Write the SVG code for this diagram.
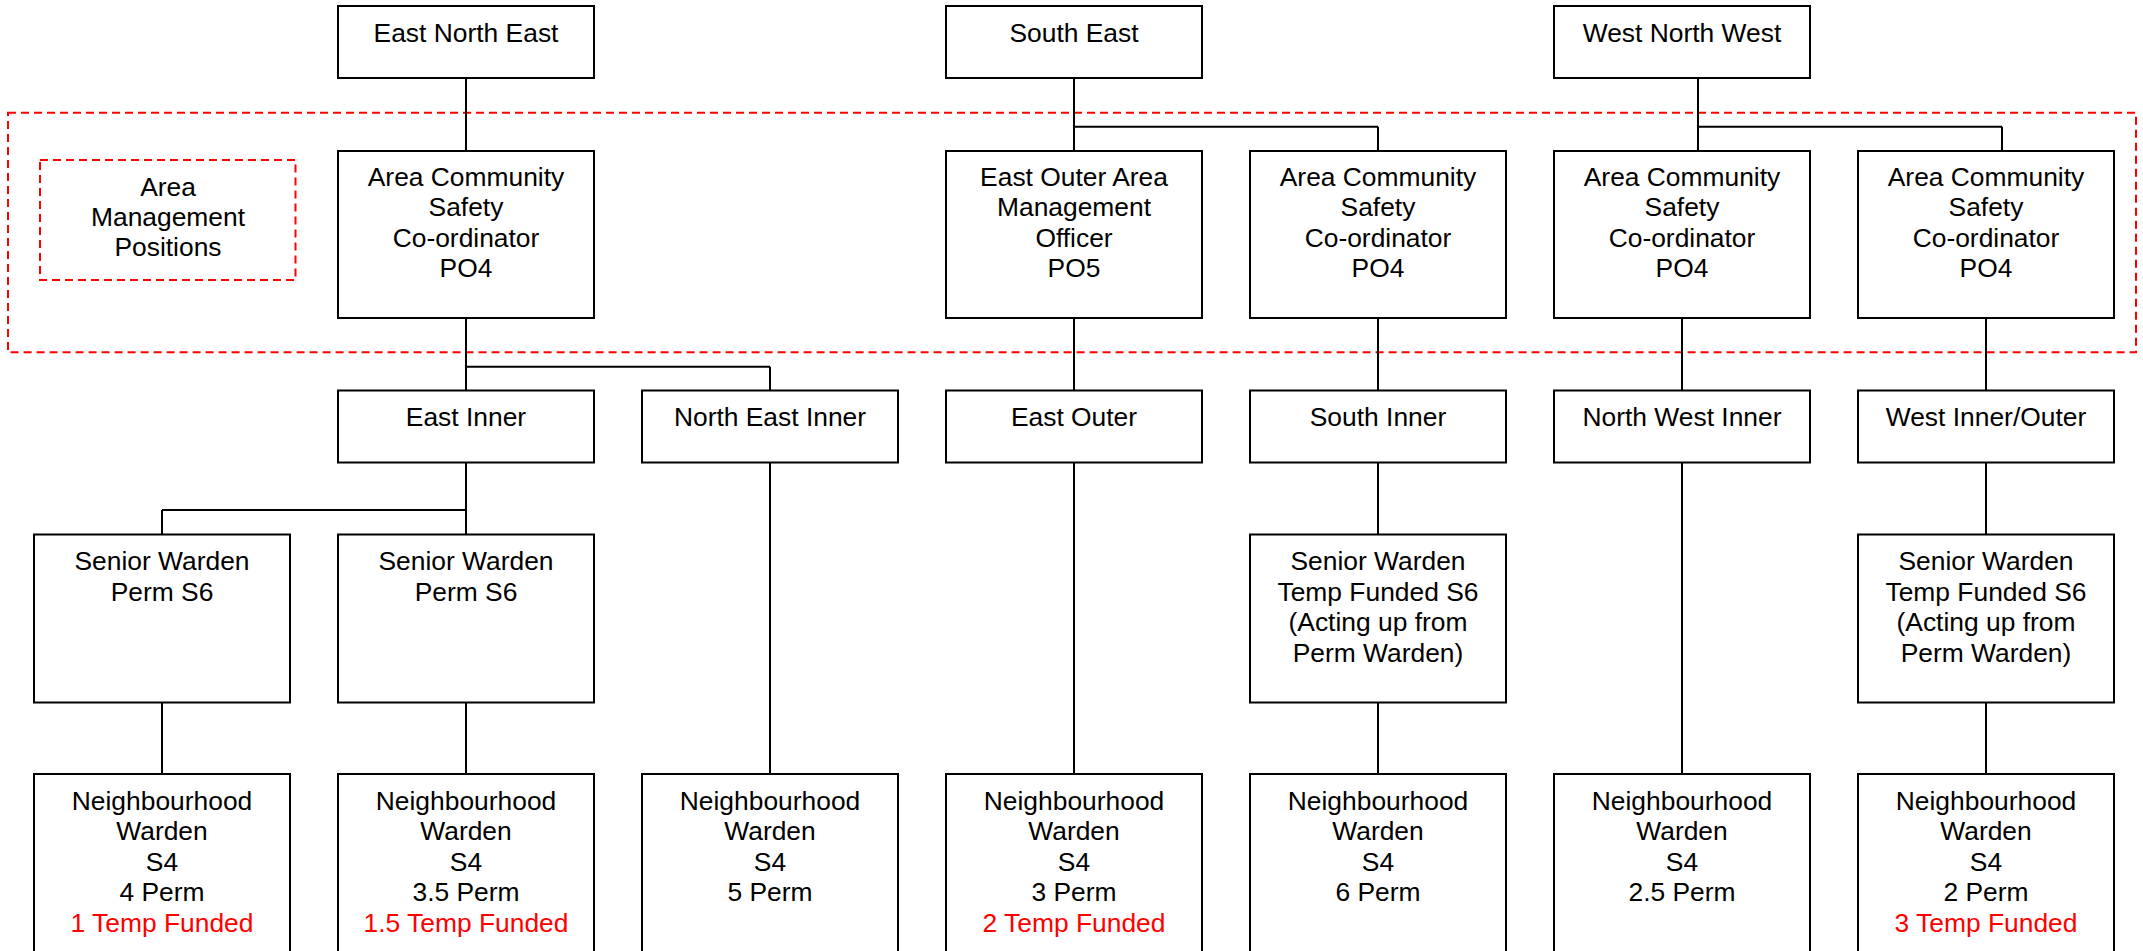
<svg xmlns="http://www.w3.org/2000/svg" width="2143" height="951" viewBox="0 0 2143 951">
<style>
.box{fill:#fff;stroke:#000;stroke-width:2}
.dash{fill:none;stroke:#ff0000;stroke-width:2;stroke-dasharray:8 5}
.t{font-family:"Liberation Sans",Arial,sans-serif;font-size:26.4px;fill:#000;text-anchor:middle}
.r{fill:#ff0000}
#connectors line{stroke:#000;stroke-width:2}
</style>
<rect width="2143" height="951" fill="#fff"/>
<g id="area-management-zone">
<rect class="dash" x="8" y="112.7" width="2128" height="239.6"/>
</g>
<g id="legend-area-management">
<rect class="dash" x="40" y="160" width="255.5" height="120"/>
<text class="t" x="168" y="196">Area</text>
<text class="t" x="168" y="226">Management</text>
<text class="t" x="168" y="256">Positions</text>
</g>
<g id="connectors">
<line x1="466" y1="78" x2="466" y2="151"/>
<line x1="466" y1="318" x2="466" y2="390.5"/>
<line x1="466" y1="366.7" x2="770" y2="366.7"/>
<line x1="770" y1="366.7" x2="770" y2="390.5"/>
<line x1="1074" y1="78" x2="1074" y2="151"/>
<line x1="1074" y1="126.7" x2="1378" y2="126.7"/>
<line x1="1378" y1="126.7" x2="1378" y2="151"/>
<line x1="1698" y1="78" x2="1698" y2="151"/>
<line x1="1698" y1="126.7" x2="2002" y2="126.7"/>
<line x1="2002" y1="126.7" x2="2002" y2="151"/>
<line x1="1074" y1="318" x2="1074" y2="390.5"/>
<line x1="1378" y1="318" x2="1378" y2="390.5"/>
<line x1="1682" y1="318" x2="1682" y2="390.5"/>
<line x1="1986" y1="318" x2="1986" y2="390.5"/>
<line x1="466" y1="462.5" x2="466" y2="534.5"/>
<line x1="162" y1="510" x2="466" y2="510"/>
<line x1="162" y1="510" x2="162" y2="534.5"/>
<line x1="770" y1="462.5" x2="770" y2="774"/>
<line x1="1074" y1="462.5" x2="1074" y2="774"/>
<line x1="1378" y1="462.5" x2="1378" y2="534.5"/>
<line x1="1378" y1="702.5" x2="1378" y2="774"/>
<line x1="1682" y1="462.5" x2="1682" y2="774"/>
<line x1="1986" y1="462.5" x2="1986" y2="534.5"/>
<line x1="1986" y1="702.5" x2="1986" y2="774"/>
<line x1="162" y1="702.5" x2="162" y2="774"/>
<line x1="466" y1="702.5" x2="466" y2="774"/>
</g>
<g id="east-north-east">
<rect class="box" x="338" y="6" width="256" height="72"/>
<text class="t" x="466" y="42">East North East</text>
</g>
<g id="south-east">
<rect class="box" x="946" y="6" width="256" height="72"/>
<text class="t" x="1074" y="42">South East</text>
</g>
<g id="west-north-west">
<rect class="box" x="1554" y="6" width="256" height="72"/>
<text class="t" x="1682" y="42">West North West</text>
</g>
<g id="acs-east">
<rect class="box" x="338" y="151" width="256" height="167"/>
<text class="t" x="466" y="185.7">Area Community</text>
<text class="t" x="466" y="216.2">Safety</text>
<text class="t" x="466" y="246.7">Co-ordinator</text>
<text class="t" x="466" y="277.2">PO4</text>
</g>
<g id="east-outer-amo">
<rect class="box" x="946" y="151" width="256" height="167"/>
<text class="t" x="1074" y="185.7">East Outer Area</text>
<text class="t" x="1074" y="216.2">Management</text>
<text class="t" x="1074" y="246.7">Officer</text>
<text class="t" x="1074" y="277.2">PO5</text>
</g>
<g id="acs-south">
<rect class="box" x="1250" y="151" width="256" height="167"/>
<text class="t" x="1378" y="185.7">Area Community</text>
<text class="t" x="1378" y="216.2">Safety</text>
<text class="t" x="1378" y="246.7">Co-ordinator</text>
<text class="t" x="1378" y="277.2">PO4</text>
</g>
<g id="acs-north-west">
<rect class="box" x="1554" y="151" width="256" height="167"/>
<text class="t" x="1682" y="185.7">Area Community</text>
<text class="t" x="1682" y="216.2">Safety</text>
<text class="t" x="1682" y="246.7">Co-ordinator</text>
<text class="t" x="1682" y="277.2">PO4</text>
</g>
<g id="acs-west">
<rect class="box" x="1858" y="151" width="256" height="167"/>
<text class="t" x="1986" y="185.7">Area Community</text>
<text class="t" x="1986" y="216.2">Safety</text>
<text class="t" x="1986" y="246.7">Co-ordinator</text>
<text class="t" x="1986" y="277.2">PO4</text>
</g>
<g id="east-inner">
<rect class="box" x="338" y="390.5" width="256" height="72"/>
<text class="t" x="466" y="426">East Inner</text>
</g>
<g id="north-east-inner">
<rect class="box" x="642" y="390.5" width="256" height="72"/>
<text class="t" x="770" y="426">North East Inner</text>
</g>
<g id="east-outer">
<rect class="box" x="946" y="390.5" width="256" height="72"/>
<text class="t" x="1074" y="426">East Outer</text>
</g>
<g id="south-inner">
<rect class="box" x="1250" y="390.5" width="256" height="72"/>
<text class="t" x="1378" y="426">South Inner</text>
</g>
<g id="north-west-inner">
<rect class="box" x="1554" y="390.5" width="256" height="72"/>
<text class="t" x="1682" y="426">North West Inner</text>
</g>
<g id="west-inner-outer">
<rect class="box" x="1858" y="390.5" width="256" height="72"/>
<text class="t" x="1986" y="426">West Inner/Outer</text>
</g>
<g id="senior-warden-1">
<rect class="box" x="34" y="534.5" width="256" height="168"/>
<text class="t" x="162" y="570">Senior Warden</text>
<text class="t" x="162" y="600.5">Perm S6</text>
</g>
<g id="senior-warden-2">
<rect class="box" x="338" y="534.5" width="256" height="168"/>
<text class="t" x="466" y="570">Senior Warden</text>
<text class="t" x="466" y="600.5">Perm S6</text>
</g>
<g id="senior-warden-south">
<rect class="box" x="1250" y="534.5" width="256" height="168"/>
<text class="t" x="1378" y="570">Senior Warden</text>
<text class="t" x="1378" y="600.5">Temp Funded S6</text>
<text class="t" x="1378" y="631">(Acting up from</text>
<text class="t" x="1378" y="661.5">Perm Warden)</text>
</g>
<g id="senior-warden-west">
<rect class="box" x="1858" y="534.5" width="256" height="168"/>
<text class="t" x="1986" y="570">Senior Warden</text>
<text class="t" x="1986" y="600.5">Temp Funded S6</text>
<text class="t" x="1986" y="631">(Acting up from</text>
<text class="t" x="1986" y="661.5">Perm Warden)</text>
</g>
<g id="nw-1">
<rect class="box" x="34" y="774" width="256" height="200"/>
<text class="t" x="162" y="809.7">Neighbourhood</text>
<text class="t" x="162" y="840.2">Warden</text>
<text class="t" x="162" y="870.7">S4</text>
<text class="t" x="162" y="901.2">4 Perm</text>
<text class="t r" x="162" y="931.7">1 Temp Funded</text>
</g>
<g id="nw-2">
<rect class="box" x="338" y="774" width="256" height="200"/>
<text class="t" x="466" y="809.7">Neighbourhood</text>
<text class="t" x="466" y="840.2">Warden</text>
<text class="t" x="466" y="870.7">S4</text>
<text class="t" x="466" y="901.2">3.5 Perm</text>
<text class="t r" x="466" y="931.7">1.5 Temp Funded</text>
</g>
<g id="nw-3">
<rect class="box" x="642" y="774" width="256" height="200"/>
<text class="t" x="770" y="809.7">Neighbourhood</text>
<text class="t" x="770" y="840.2">Warden</text>
<text class="t" x="770" y="870.7">S4</text>
<text class="t" x="770" y="901.2">5 Perm</text>
</g>
<g id="nw-4">
<rect class="box" x="946" y="774" width="256" height="200"/>
<text class="t" x="1074" y="809.7">Neighbourhood</text>
<text class="t" x="1074" y="840.2">Warden</text>
<text class="t" x="1074" y="870.7">S4</text>
<text class="t" x="1074" y="901.2">3 Perm</text>
<text class="t r" x="1074" y="931.7">2 Temp Funded</text>
</g>
<g id="nw-5">
<rect class="box" x="1250" y="774" width="256" height="200"/>
<text class="t" x="1378" y="809.7">Neighbourhood</text>
<text class="t" x="1378" y="840.2">Warden</text>
<text class="t" x="1378" y="870.7">S4</text>
<text class="t" x="1378" y="901.2">6 Perm</text>
</g>
<g id="nw-6">
<rect class="box" x="1554" y="774" width="256" height="200"/>
<text class="t" x="1682" y="809.7">Neighbourhood</text>
<text class="t" x="1682" y="840.2">Warden</text>
<text class="t" x="1682" y="870.7">S4</text>
<text class="t" x="1682" y="901.2">2.5 Perm</text>
</g>
<g id="nw-7">
<rect class="box" x="1858" y="774" width="256" height="200"/>
<text class="t" x="1986" y="809.7">Neighbourhood</text>
<text class="t" x="1986" y="840.2">Warden</text>
<text class="t" x="1986" y="870.7">S4</text>
<text class="t" x="1986" y="901.2">2 Perm</text>
<text class="t r" x="1986" y="931.7">3 Temp Funded</text>
</g>
</svg>
